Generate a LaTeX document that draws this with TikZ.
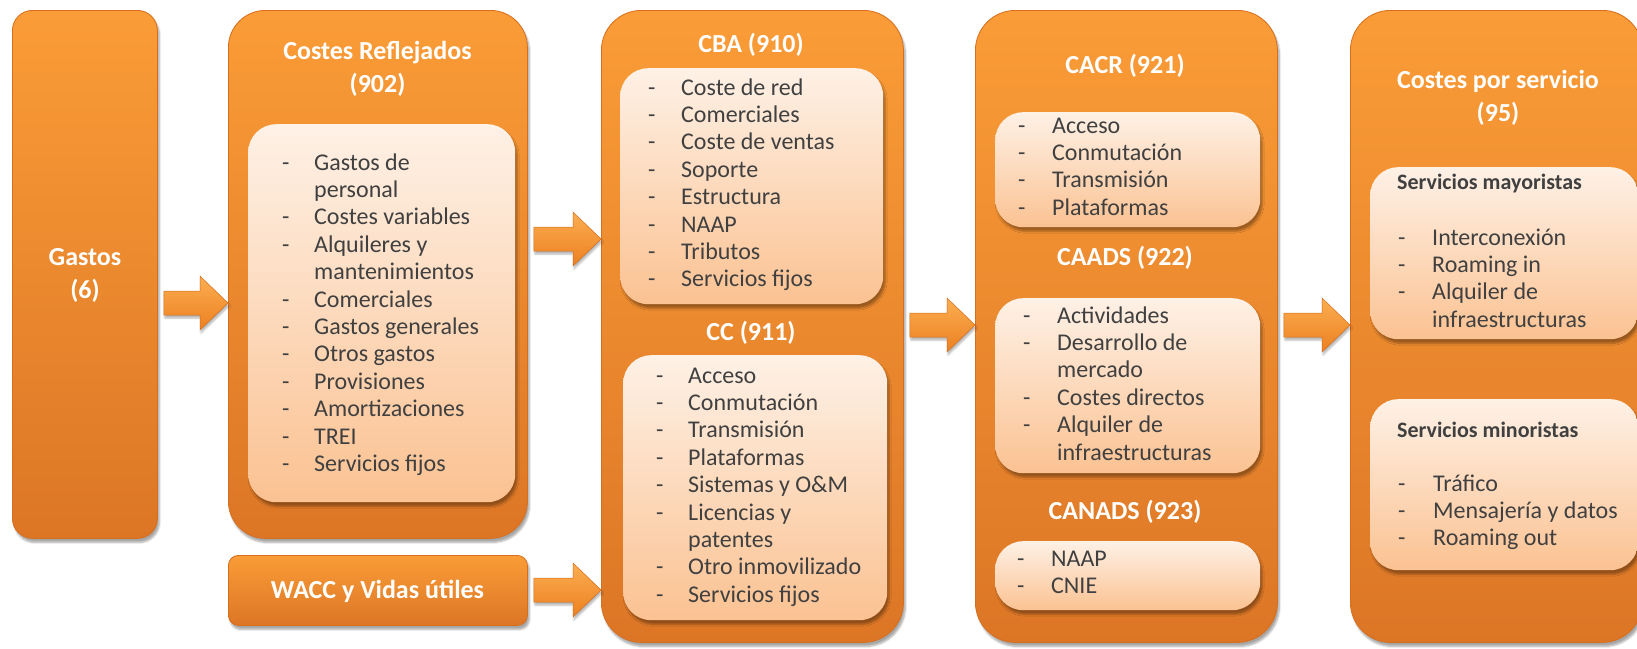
\documentclass[tikz,border=0pt]{standalone}
\usepackage{fontspec}
\setmainfont{Carlito}
\usetikzlibrary{calc,shadows.blur}
\definecolor{obTop}{RGB}{250,156,55}
\definecolor{obBot}{RGB}{220,118,38}
\definecolor{obLine}{RGB}{214,110,30}
\definecolor{ibTop}{RGB}{254,241,230}
\definecolor{ibBot}{RGB}{251,194,146}
\definecolor{txt}{RGB}{64,64,64}
\definecolor{arTop}{RGB}{251,174,82}
\definecolor{arBot}{RGB}{236,128,32}
\newcommand{\lst}[2]{\begin{tabular}[t]{@{}p{#1}@{}l@{}}#2\end{tabular}}
\newcommand{\barrow}[3]{%
  \coordinate (yref) at (0,#3);
  \coordinate (bA) at ($(#1.east |- yref)+(6,0)$);
  \coordinate (bB) at (#2.west |- yref);
  \path[blockarrow] ($(bA)+(0,-12)$) -- ($(bB)+(-28,-12)$) -- ($(bB)+(-28,-27)$) -- (bB)
     -- ($(bB)+(-28,27)$) -- ($(bB)+(-28,12)$) -- ($(bA)+(0,12)$) -- cycle;
}
\tikzset{
  shad/.style={blur shadow={shadow xshift=2pt, shadow yshift=-4pt, shadow opacity=35, shadow blur steps=6}},
  outerbox/.style={rectangle, rounded corners=#1, top color=obTop, bottom color=obBot,
     draw=obLine, line width=0.8pt, anchor=north west, inner sep=0pt, shad},
  innerbox/.style={rectangle, rounded corners=28pt, top color=ibTop, bottom color=ibBot,
     anchor=north west, inner sep=0pt, shad},
  title/.style={text=white, font=\bfseries\fontsize{26}{33}\selectfont, align=center, inner sep=0pt},
  subtitle/.style={text=txt, font=\bfseries\fontsize{22}{27}\selectfont, anchor=west, inner sep=0pt},
  listtext/.style={text=txt, font=\fontsize{24}{27.4}\selectfont, anchor=base west, inner sep=0pt},
  blockarrow/.style={top color=arTop, bottom color=arBot, draw=obLine, line width=0.5pt,
     blur shadow={shadow xshift=1pt, shadow yshift=-3pt, shadow opacity=30, shadow blur steps=5}},
}
\begin{document}
\begin{tikzpicture}[x=1pt,y=-1pt]
\useasboundingbox (0,0) rectangle (1637,648);
% outer boxes
\node[outerbox=20pt, minimum width=145pt, minimum height=528pt] (gastos) at (12,10) {};
\node[outerbox=37pt, minimum width=299pt, minimum height=528pt] (costes) at (228,10) {};
\node[outerbox=10pt, minimum width=299pt, minimum height=70pt] (wacc) at (228,555) {};
\node[outerbox=40pt, minimum width=302pt, minimum height=632pt] (cba) at (601,10) {};
\node[outerbox=40pt, minimum width=302pt, minimum height=632pt] (cacr) at (975,10) {};
\node[outerbox=40pt, minimum width=292pt, minimum height=632pt] (cps) at (1350,10) {};
% inner boxes
\node[innerbox, minimum width=267pt, minimum height=378pt] (costesIn) at (248,124) {};
\node[innerbox, minimum width=263pt, minimum height=236pt] (cbaIn) at (620,68) {};
\node[innerbox, minimum width=264pt, minimum height=265pt] (ccIn) at (623,355) {};
\node[innerbox, minimum width=265pt, minimum height=115pt] (cacrIn) at (995,112) {};
\node[innerbox, minimum width=265pt, minimum height=175pt] (caadsIn) at (995,298) {};
\node[innerbox, minimum width=265pt, minimum height=69pt] (canadsIn) at (995,541) {};
\node[innerbox, minimum width=268pt, minimum height=172pt] (mayIn) at (1370,167) {};
\node[innerbox, minimum width=268pt, minimum height=171pt] (minIn) at (1370,399) {};
% arrows
\barrow{gastos}{costes}{303}
\barrow{costes}{cba}{239}
\barrow{wacc}{cba}{590}
\barrow{cba}{cacr}{325}
\barrow{cacr}{cps}{325}
% titles
\node[title] (tGastos) at (85,275) {Gastos\\(6)};
\node[title] (tCostes) at (377.5,68.5) {Costes Reflejados\\(902)};
\node[title] (tWacc) at (377.5,591) {WACC y Vidas útiles};
\node[title] (tCba) at (751,45) {CBA (910)};
\node[title] (tCc) at (751,333) {CC (911)};
\node[title] (tCacr) at (1125,66) {CACR (921)};
\node[title] (tCaads) at (1125,258) {CAADS (922)};
\node[title] (tCanads) at (1125,512) {CANADS (923)};
\node[title] (tCps) at (1498,97.5) {Costes por servicio\\(95)};
% lists
\node[listtext] (lCostes) at (282,170) {\lst{32pt}{-&Gastos de\\&personal\\-&Costes variables\\-&Alquileres y\\&mantenimientos\\-&Comerciales\\-&Gastos generales\\-&Otros gastos\\-&Provisiones\\-&Amortizaciones\\-&TREI\\-&Servicios fijos}};
\node[listtext] (lCba) at (648,95) {\lst{33pt}{-&Coste de red\\-&Comerciales\\-&Coste de ventas\\-&Soporte\\-&Estructura\\-&NAAP\\-&Tributos\\-&Servicios fijos}};
\node[listtext] (lCc) at (656,383) {\lst{32pt}{-&Acceso\\-&Conmutación\\-&Transmisión\\-&Plataformas\\-&Sistemas y O\&M\\-&Licencias y\\&patentes\\-&Otro inmovilizado\\-&Servicios fijos}};
\node[listtext] (lCacr) at (1018,133) {\lst{34pt}{-&Acceso\\-&Conmutación\\-&Transmisión\\-&Plataformas}};
\node[listtext] (lCaads) at (1023,323) {\lst{34pt}{-&Actividades\\-&Desarrollo de\\&mercado\\-&Costes directos\\-&Alquiler de\\&infraestructuras}};
\node[listtext] (lCanads) at (1017,566) {\lst{34pt}{-&NAAP\\-&CNIE}};
\node[subtitle] (sMay) at (1397,184) {Servicios mayoristas};
\node[listtext] (lMay) at (1398,245) {\lst{34pt}{-&Interconexión\\-&Roaming in\\-&Alquiler de\\&infraestructuras}};
\node[subtitle] (sMin) at (1397,430) {Servicios minoristas};
\node[listtext] (lMin) at (1398,491) {\lst{35pt}{-&Tráfico\\-&Mensajería y datos\\-&Roaming out}};
\end{tikzpicture}
\end{document}
